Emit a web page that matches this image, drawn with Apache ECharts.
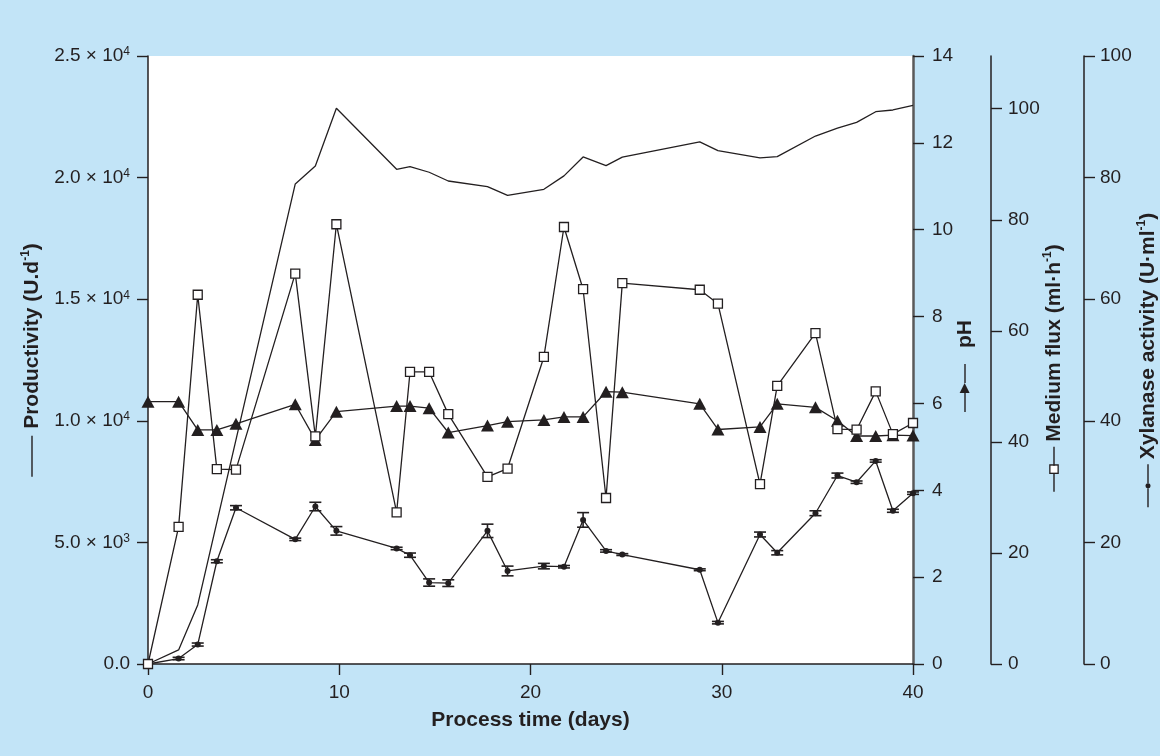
<!DOCTYPE html>
<html><head><meta charset="utf-8">
<script src="https://cdn.jsdelivr.net/npm/echarts@6/dist/echarts.min.js"></script>
<style>html,body{margin:0;padding:0;background:#c2e4f7}#c{width:1160px;height:756px}</style>
</head><body><div id="c"></div>
<script>
// ---- data ----
const days = [0, 1.6, 2.6, 3.6, 4.6, 7.7, 8.75, 9.85, 13.0, 13.7, 14.7, 15.7, 17.75, 18.8, 20.7, 21.75, 22.75, 23.95, 24.8, 28.85, 29.8, 32.0, 32.9, 34.9, 36.05, 37.05, 38.05, 38.95, 40.0];
const productivity = [0, 580, 2430, null, null, 19740, 20480, 22850, 20340, 20450, 20220, 19860, 19630, 19270, 19520, 20070, 20850, 20490, 20840, 21470, 21110, 20810, 20860, 21710, 22030, 22270, 22710, 22780, 22970];
const pH = [6.04, 6.04, 5.39, 5.39, 5.53, 5.98, 5.16, 5.81, 5.94, 5.94, 5.89, 5.33, 5.49, 5.58, 5.62, 5.69, 5.69, 6.27, 6.26, 5.99, 5.40, 5.46, 5.99, 5.91, 5.60, 5.25, 5.25, 5.27, 5.26];
const flux = [0, 24.7, 66.5, 35.1, 35.0, 70.3, 41.0, 79.2, 27.3, 52.6, 52.6, 45.0, 33.7, 35.2, 55.3, 78.7, 67.5, 29.9, 68.6, 67.4, 64.9, 32.4, 50.1, 59.6, 42.3, 42.2, 49.1, 41.4, 43.4];
const xylanase = [0, 0.9, 3.2, 16.9, 25.7, 20.5, 25.9, 21.9, 19.0, 17.9, 13.4, 13.3, 21.9, 15.3, 16.1, 16.0, 23.7, 18.6, 18.0, 15.5, 6.8, 21.3, 18.3, 24.8, 31.0, 29.9, 33.4, 25.2, 28.1];
const xylanaseErr = [0, 0.2, 0.25, 0.25, 0.35, 0.2, 0.7, 0.7, 0.2, 0.35, 0.6, 0.55, 1.1, 0.8, 0.45, 0.2, 1.2, 0.2, 0.15, 0.15, 0.2, 0.4, 0.35, 0.4, 0.4, 0.2, 0.2, 0.25, 0.2];
const xTicks = [0, 10, 20, 30, 40];
const fluxTicks = [0, 20, 40, 60, 80, 100];

const INK = '#231f20';
const FONT = '"Liberation Sans", Arial, Helvetica, sans-serif';
const chart = echarts.init(document.getElementById('c'));

const pairs = arr => days.map((d, i) => [d, arr[i]]).filter(p => p[1] !== null);

const tickLabel = {color: INK, fontFamily: FONT, fontSize: 19};
const titleStyle = {color: INK, fontFamily: FONT, fontSize: 21, fontWeight: 'bold'};
const keyRich = {
  l: {width: 19, height: 1.4, backgroundColor: INK},
  L: {width: 41, height: 1.4, backgroundColor: INK},
  g5: {width: 5}, g7: {width: 7}, g16: {width: 16},
  sq: {width: 7, height: 7, backgroundColor: '#fff', borderColor: INK, borderWidth: 1.3},
  dot: {width: 5, height: 5, borderRadius: 2.5, backgroundColor: INK},
  tri: {fontSize: 13, color: INK, fontFamily: '"DejaVu Sans", sans-serif'},
  s: {fontSize: 12, fontWeight: 'bold', color: INK, fontFamily: FONT, verticalAlign: 'top', lineHeight: 10},
  t: {fontSize: 21, fontWeight: 'bold', color: INK, fontFamily: FONT, lineHeight: 24}
};

function sciLabel(v) {
  if (v === 0) return '{b|0.0}';
  const e = Math.floor(Math.log10(v) + 1e-9);
  const m = (v / Math.pow(10, e)).toFixed(1);
  return '{b|' + m + ' × 10}{s|' + e + '}';
}

const axisCommon = {
  type: 'value', min: 0,
  splitLine: {show: false},
  axisTick: {show: true, inside: false, length: 11, lineStyle: {color: INK, width: 1.4}},
  axisLine: {show: true, lineStyle: {color: INK, width: 1.5}},
  nameLocation: 'middle', nameRotate: 90, nameMoveOverlap: false
};

chart.setOption({
  animation: false,
  backgroundColor: '#c2e4f7',
  grid: {left: 148, right: 247, top: 56, bottom: 92, show: true, backgroundColor: '#ffffff', borderWidth: 0,
         containLabel: false, outerBoundsMode: 'none'},
  xAxis: {
    type: 'value', min: 0, max: 40, interval: 10,
    splitLine: {show: false},
    axisLine: {lineStyle: {color: INK, width: 1.5}},
    axisTick: {inside: false, length: 11, lineStyle: {color: INK, width: 1.4}},
    axisLabel: Object.assign({margin: 19, customValues: xTicks}, tickLabel),
    name: 'Process time (days)', nameLocation: 'middle', nameGap: 46, nameMoveOverlap: false,
    nameTextStyle: titleStyle
  },
  yAxis: [
    Object.assign({}, axisCommon, {
      position: 'left', max: 25000, interval: 5000,
      axisLabel: {margin: 18, formatter: sciLabel, rich: {
        b: {fontSize: 19, color: INK, fontFamily: FONT, lineHeight: 20},
        s: {fontSize: 12, color: INK, fontFamily: FONT, verticalAlign: 'top', lineHeight: 12}
      }},
      name: '{L| }{g7| }{t|Productivity (U.d}{s|-1}{t|)}', nameGap: 104,
      nameTextStyle: {rich: keyRich}
    }),
    Object.assign({}, axisCommon, {
      position: 'right', offset: 0, max: 14, interval: 2,
      axisLine: {show: true, lineStyle: {color: '#5a5a5a', width: 2.5}},
      axisLabel: Object.assign({margin: 19}, tickLabel),
      name: '{l| }{tri|▶}{l| }{g16| }{t|pH}', nameGap: 40,
      nameTextStyle: {rich: keyRich, padding: [0, 12, 0, 0]}
    }),
    Object.assign({}, axisCommon, {
      position: 'right', offset: 78, max: 109.5,
      axisTick: {show: true, inside: false, length: 11, customValues: fluxTicks, lineStyle: {color: INK, width: 1.4}},
      axisLabel: Object.assign({margin: 17, customValues: fluxTicks}, tickLabel),
      name: '{l| }{sq| }{l| }{g5| }{t|Medium flux (ml·h}{s|-1}{t|)}', nameGap: 51,
      nameTextStyle: {rich: keyRich, padding: [0, 16, 0, 0]}
    }),
    Object.assign({}, axisCommon, {
      position: 'right', offset: 171, max: 100, interval: 20,
      axisLabel: Object.assign({margin: 16}, tickLabel),
      name: '{l| }{dot| }{l| }{g5| }{t|Xylanase activity (U·ml}{s|-1}{t|)}', nameGap: 52,
      nameTextStyle: {rich: keyRich}
    })
  ],
  series: [
    {
      name: 'Productivity', type: 'line', yAxisIndex: 0, data: pairs(productivity),
      showSymbol: false, symbol: 'none', lineStyle: {color: INK, width: 1.3}, z: 2
    },
    {
      name: 'pH', type: 'line', yAxisIndex: 1, data: pairs(pH),
      symbol: 'triangle', symbolSize: [13, 12], itemStyle: {color: INK},
      lineStyle: {color: INK, width: 1.3}, z: 3
    },
    {
      name: 'Medium flux', type: 'line', yAxisIndex: 2, data: pairs(flux),
      symbol: 'rect', symbolSize: 9, itemStyle: {color: '#ffffff', borderColor: INK, borderWidth: 1.3},
      lineStyle: {color: INK, width: 1.3}, z: 5
    },
    {
      name: 'Xylanase', type: 'line', yAxisIndex: 3, data: pairs(xylanase),
      symbol: 'circle', symbolSize: 6, itemStyle: {color: INK},
      lineStyle: {color: INK, width: 1.3}, z: 4
    },
    {
      name: 'Xylanase error', type: 'custom', yAxisIndex: 3,
      data: days.map((d, i) => [d, xylanase[i], xylanaseErr[i]]).filter(p => p[2] > 0),
      z: 4,
      renderItem: function (params, api) {
        const x = api.value(0), y = api.value(1), e = api.value(2);
        const lo = api.coord([x, y - e]);
        const hi = api.coord([x, y + e]);
        const w = 6;
        const st = {stroke: INK, lineWidth: 1.6};
        return {type: 'group', children: [
          {type: 'line', shape: {x1: lo[0], y1: lo[1], x2: hi[0], y2: hi[1]}, style: st},
          {type: 'line', shape: {x1: lo[0] - w, y1: lo[1], x2: lo[0] + w, y2: lo[1]}, style: st},
          {type: 'line', shape: {x1: hi[0] - w, y1: hi[1], x2: hi[0] + w, y2: hi[1]}, style: st}
        ]};
      }
    }
  ]
});
</script>
</body></html>
